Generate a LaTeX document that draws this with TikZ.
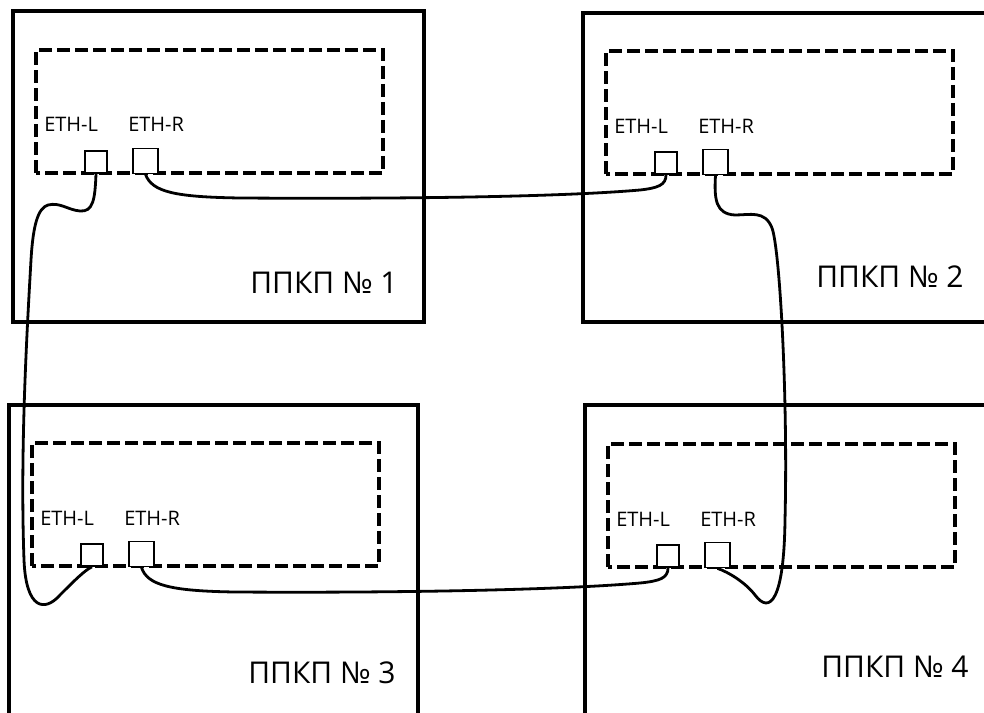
\documentclass[tikz,border=0pt]{standalone}
\usepackage{fontspec}
\setmainfont{Open Sans}
\usetikzlibrary{calc, positioning}
\tikzset{
    panelFrame/.style={line width=3pt},
    boardDash/.style={line width=2.6pt, dash pattern=on 9.5pt off 4pt},
    portL/.style={rectangle, draw, fill=white, line width=1.3pt, inner sep=0pt, minimum size=16.5pt},
    portR/.style={rectangle, draw, fill=white, line width=1.3pt, inner sep=0pt, minimum size=18.75pt},
    cableLine/.style={line width=2.1pt},
    ethText/.style={anchor=base west, inner sep=0pt, font=\fontsize{15}{18}\selectfont},
    panelTitle/.style={anchor=base west, inner sep=0pt, font=\fontsize{22.5}{27}\selectfont},
}
\newcommand{\drawBoard}[3]{
    % #1 - name, (#2,#3) - lower left corner of the dashed board
    \draw[boardDash] (#2,#3) rectangle (#2+347,#3-123);
    \node[portL] (#1L) at (#2+60,#3-11) {};
    \node[portR] (#1R) at (#2+109.5,#3-12) {};
    \node[ethText] (#1Ltext) at (#2+8,#3-41) {ETH-L};
    \node[ethText] (#1Rtext) at (#2+92,#3-41) {ETH-R};
}

\begin{document}
\begin{tikzpicture}[x=0.75pt, y=-0.75pt]
        \useasboundingbox (0,0) rectangle (984,713);
        \clip (0,0) rectangle (984,713);

        % panels
        \draw[panelFrame] (13,11) rectangle (424,322);
        \draw[panelFrame] (583,13) rectangle (1000,322);
        \draw[panelFrame] (9,405) rectangle (418,730);
        \draw[panelFrame] (585,405) rectangle (1000,730);

        \drawBoard{p1}{36}{173}
        \drawBoard{p2}{606}{174}
        \drawBoard{p3}{32}{566}
        \drawBoard{p4}{608}{567}

        \node[panelTitle] (title1) at (250,293) {ППКП № 1};
        \node[panelTitle] (title2) at (816,287) {ППКП № 2};
        \node[panelTitle] (title3) at (248,683) {ППКП № 3};
        \node[panelTitle] (title4) at (821,677) {ППКП № 4};

        % cables
        \draw[cableLine] (p1R.south) .. controls (152,192) and (175,197) .. (240,198)
            .. controls (400,199) and (560,197) .. (640,190)
            .. controls (658,188) and (666,185) .. (p2L.south);
        \draw[cableLine] (p3R.south) .. controls (147,585) and (170,591) .. (235,592)
            .. controls (400,593) and (560,590) .. (640,583)
            .. controls (660,581) and (668,578) .. (p4L.south);
        \draw[cableLine] (p1L.south) .. controls (95,200) and (93,212) .. (80,211)
            .. controls (68,210) and (60,202) .. (48,205)
            .. controls (38,208) and (33,225) .. (31,260)
            .. controls (27,330) and (20,450) .. (24,560)
            .. controls (26,610) and (45,612) .. (60,595)
            .. controls (75,580) and (85,570) .. (p3L.south);
        \draw[cableLine] (p2R.south) .. controls (714,200) and (716,214) .. (735,215)
            .. controls (750,215) and (765,210) .. (772,228)
            .. controls (780,250) and (788,400) .. (785,520)
            .. controls (784,600) and (770,615) .. (755,595)
            .. controls (745,582) and (728,572) .. (p4R.south);

    \end{tikzpicture}
\end{document}
